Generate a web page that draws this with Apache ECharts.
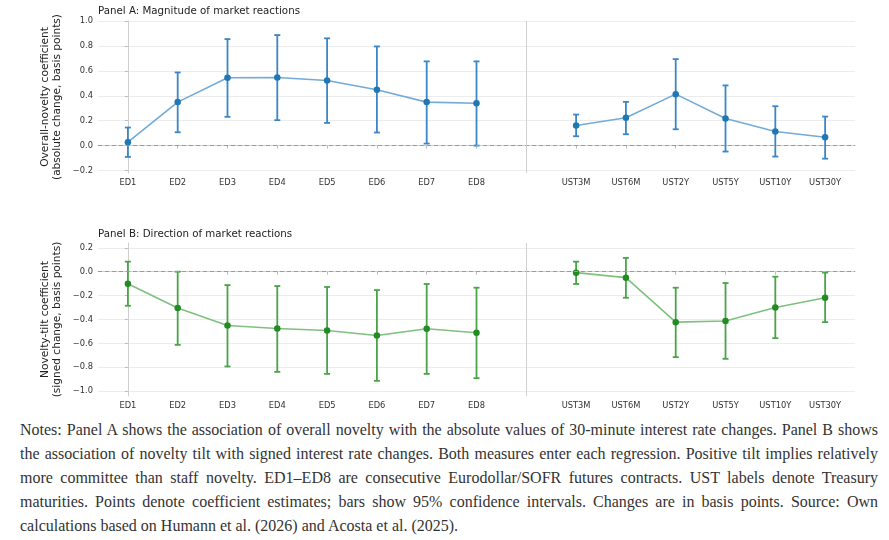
<!DOCTYPE html>
<html lang="en">
<head>
    <meta charset="UTF-8">
    <title>Novelty and market reactions</title>
    <script type="text/javascript" src="https://cdn.jsdelivr.net/npm/echarts@6/dist/echarts.min.js"></script>
    <style>
        body {margin: 0; background: #fff;}
        #notes {
            position: absolute; left: 20px; top: 418px; width: 858px;
            font-family: "Liberation Serif", serif; font-size: 16px; line-height: 23.9px;
            color: #333; text-align: justify;
        }
    </style>
</head>
<body>
<div id="main" style="width: 889px;height: 412px"></div>
<div id="notes">Notes: Panel A shows the association of overall novelty with the absolute values of 30-minute interest rate changes. Panel B shows the association of novelty tilt with signed interest rate changes. Both measures enter each regression. Positive tilt implies relatively more committee than staff novelty. ED1–ED8 are consecutive Eurodollar/SOFR futures contracts. UST labels denote Treasury maturities. Points denote coefficient estimates; bars show 95% confidence intervals. Changes are in basis points. Source: Own calculations based on Humann et al. (2026) and Acosta et al. (2025).</div>
</body>
<script>
    // categories and their slot on the x axis (slot 8 is the gap between groups)
    var categories = ['ED1', 'ED2', 'ED3', 'ED4', 'ED5', 'ED6', 'ED7', 'ED8',
        'UST3M', 'UST6M', 'UST2Y', 'UST5Y', 'UST10Y', 'UST30Y'];
    var slots = [0, 1, 2, 3, 4, 5, 6, 7, 9, 10, 11, 12, 13, 14];

    // Panel A: overall novelty
    var magPoint = [0.027, 0.349, 0.544, 0.547, 0.523, 0.448, 0.349, 0.340,
        0.161, 0.223, 0.413, 0.217, 0.113, 0.067];
    var magLow = [-0.091, 0.107, 0.231, 0.204, 0.182, 0.105, 0.016, 0.000,
        0.075, 0.091, 0.131, -0.048, -0.088, -0.105];
    var magHigh = [0.145, 0.587, 0.855, 0.887, 0.861, 0.796, 0.676, 0.676,
        0.249, 0.351, 0.694, 0.483, 0.316, 0.233];

    // Panel B: novelty tilt
    var tiltPoint = [-0.101, -0.304, -0.450, -0.475, -0.492, -0.534, -0.478, -0.511,
        -0.008, -0.050, -0.422, -0.413, -0.299, -0.218];
    var tiltLow = [-0.285, -0.612, -0.793, -0.838, -0.855, -0.913, -0.855, -0.891,
        -0.103, -0.218, -0.715, -0.729, -0.556, -0.422];
    var tiltHigh = [0.084, 0.000, -0.112, -0.120, -0.128, -0.154, -0.103, -0.134,
        0.084, 0.115, -0.134, -0.095, -0.042, -0.008];

    var yTicksA = [-0.2, 0.0, 0.2, 0.4, 0.6, 0.8, 1.0];
    var yTicksB = [-1.0, -0.8, -0.6, -0.4, -0.2, 0.0, 0.2];

    var font = 'DejaVu Sans';

    function fmt(v) {
        return v.toFixed(1).replace('-', '\u2212');
    }

    function xAxisFor(idx) {
        return {
            type: 'value', gridIndex: idx, min: -0.6, max: 14.6,
            axisLine: {lineStyle: {color: '#cfcfcf'}},
            axisTick: {customValues: slots, length: 3, lineStyle: {color: '#bbb'}},
            axisLabel: {
                customValues: slots, color: '#333', fontFamily: font, fontSize: 8.3, margin: 6,
                formatter: function (v) { return categories[slots.indexOf(v)]; }
            },
            splitLine: {show: false}
        };
    }

    function yAxisFor(idx, min, max, ticks, name) {
        return {
            type: 'value', gridIndex: idx, min: min, max: max,
            name: name, nameLocation: 'middle', nameGap: 34, nameMoveOverlap: false,
            nameTextStyle: {color: '#222', fontFamily: font, fontSize: 10.6, lineHeight: 12.8},
            axisLine: {show: true, lineStyle: {color: '#cfcfcf'}},
            axisTick: {show: true, customValues: ticks, length: 3, lineStyle: {color: '#bbb'}},
            axisLabel: {customValues: ticks, color: '#333', fontFamily: font, fontSize: 8.3, margin: 5, formatter: fmt},
            splitLine: {show: true, lineStyle: {color: '#ececec'}}
        };
    }

    function pairs(vals, from, to) {
        var out = [];
        for (var i = from; i < to; i++) {
            out.push([slots[i], vals[i]]);
        }
        return out;
    }

    function errorSeries(idx, low, high, color) {
        var data = [];
        for (var i = 0; i < slots.length; i++) {
            data.push([slots[i], low[i], high[i]]);
        }
        return {
            type: 'custom', xAxisIndex: idx, yAxisIndex: idx, z: 2,
            data: data,
            renderItem: function (params, api) {
                var lo = api.coord([api.value(0), api.value(1)]);
                var hi = api.coord([api.value(0), api.value(2)]);
                var w = 3;
                var style = {stroke: color, lineWidth: 1.8};
                return {
                    type: 'group',
                    children: [
                        {type: 'line', shape: {x1: lo[0], y1: lo[1], x2: hi[0], y2: hi[1]}, style: style},
                        {type: 'line', shape: {x1: lo[0] - w, y1: lo[1], x2: lo[0] + w, y2: lo[1]}, style: style},
                        {type: 'line', shape: {x1: hi[0] - w, y1: hi[1], x2: hi[0] + w, y2: hi[1]}, style: style}
                    ]
                };
            }
        };
    }

    function lineSeries(idx, vals, from, to, lineColor, dotColor, marks) {
        var s = {
            type: 'line', xAxisIndex: idx, yAxisIndex: idx, z: 3,
            data: pairs(vals, from, to),
            symbol: 'circle', symbolSize: 6.5,
            lineStyle: {color: lineColor, width: 1.6},
            itemStyle: {color: dotColor},
            emphasis: {disabled: true},
            animation: false
        };
        if (marks) {
            s.markLine = {
                silent: true, symbol: 'none', label: {show: false}, animation: false,
                data: [
                    {yAxis: 0, lineStyle: {color: '#9a9a9a', type: [4, 3], width: 1}},
                    {xAxis: 8, lineStyle: {color: '#d0d0d0', type: 'solid', width: 1}}
                ]
            };
        }
        return s;
    }

    var myChart = echarts.init(document.getElementById('main'));
    myChart.setOption({
        animation: false,
        textStyle: {fontFamily: font},
        title: [
            {text: 'Panel A: Magnitude of market reactions', left: 93, top: 1,
                textStyle: {fontSize: 10.25, fontWeight: 'normal', color: '#222', fontFamily: font}},
            {text: 'Panel B: Direction of market reactions', left: 93, top: 224,
                textStyle: {fontSize: 10.25, fontWeight: 'normal', color: '#222', fontFamily: font}}
        ],
        grid: [
            {left: 98, top: 21, width: 757, height: 152},
            {left: 98, top: 243, width: 757, height: 153}
        ],
        xAxis: [xAxisFor(0), xAxisFor(1)],
        yAxis: [
            yAxisFor(0, -0.22, 1.0, yTicksA, 'Overall-novelty coefficient\n(absolute change, basis points)'),
            yAxisFor(1, -1.04, 0.24, yTicksB, 'Novelty-tilt coefficient\n(signed change, basis points)')
        ],
        series: [
            errorSeries(0, magLow, magHigh, '#3b86c6'),
            lineSeries(0, magPoint, 0, 8, '#74aad8', '#1f77b4', true),
            lineSeries(0, magPoint, 8, 14, '#74aad8', '#1f77b4', false),
            errorSeries(1, tiltLow, tiltHigh, '#49a449'),
            lineSeries(1, tiltPoint, 0, 8, '#7fc07f', '#238b23', true),
            lineSeries(1, tiltPoint, 8, 14, '#7fc07f', '#238b23', false)
        ]
    });
</script>
</html>
